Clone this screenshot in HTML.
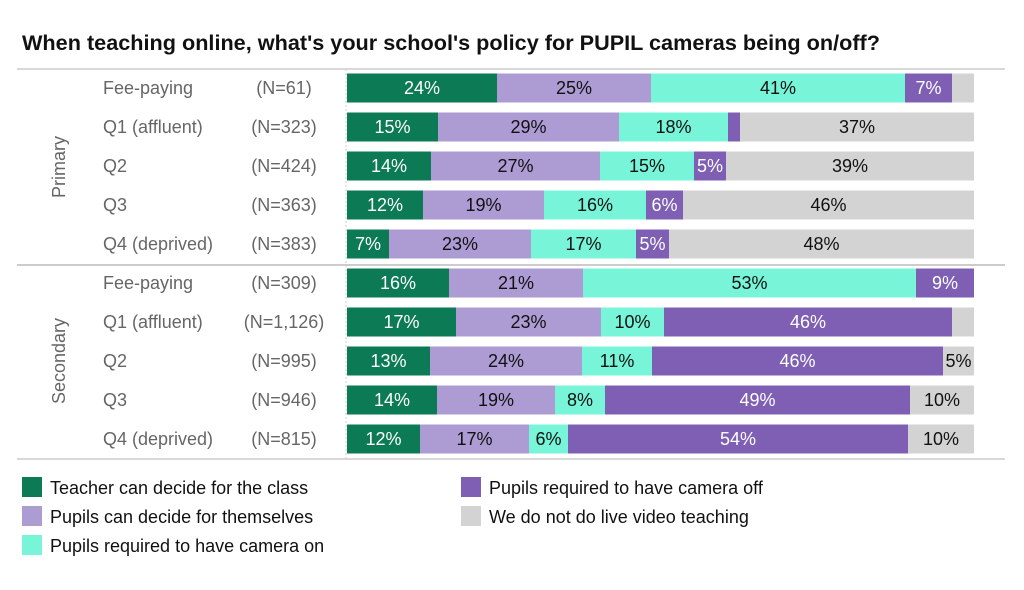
<!DOCTYPE html>
<html><head><meta charset="utf-8"><style>
body{margin:0;background:#fff}
svg text{font-family:"Liberation Sans",sans-serif}
</style></head><body>
<svg width="1024" height="585" xmlns="http://www.w3.org/2000/svg">
<text x="22" y="50" font-size="21.5" font-weight="bold" fill="#111" textLength="858" lengthAdjust="spacingAndGlyphs">When teaching online, what's your school's policy for PUPIL cameras being on/off?</text>
<line x1="17" y1="69" x2="1005" y2="69" stroke="#ccc" stroke-width="1.5"/>
<line x1="17" y1="265" x2="1005" y2="265" stroke="#bbb" stroke-width="1.5"/>
<line x1="17" y1="459" x2="1005" y2="459" stroke="#ccc" stroke-width="1.5"/>
<line x1="346" y1="69" x2="346" y2="459" stroke="#ccc" stroke-width="1" stroke-dasharray="2,2"/>
<text transform="translate(65,167) rotate(-90)" text-anchor="middle" font-size="18" fill="#666">Primary</text>
<text transform="translate(65,361) rotate(-90)" text-anchor="middle" font-size="18" fill="#666">Secondary</text>
<g id="bars"></g>
<g font-size="18" fill="#111">
<rect x="22" y="477" width="20" height="20" fill="#0b7a55"/><text x="50" y="494">Teacher can decide for the class</text>
<rect x="22" y="506" width="20" height="20" fill="#ad9bd3"/><text x="50" y="523">Pupils can decide for themselves</text>
<rect x="22" y="535" width="20" height="20" fill="#78f4d8"/><text x="50" y="552">Pupils required to have camera on</text>
<rect x="461" y="477" width="20" height="20" fill="#7e5fb4"/><text x="489" y="494">Pupils required to have camera off</text>
<rect x="461" y="506" width="20" height="20" fill="#d3d3d3"/><text x="489" y="523">We do not do live video teaching</text>
</g>
</svg>
<script>
var cols=["#0b7a55","#ad9bd3","#78f4d8","#7e5fb4","#d3d3d3"];
var tc=["#fff","#111","#111","#fff","#111"];
var rows=[
["Fee-paying","(N=61)",[347,497,651,905,952,974],["24%","25%","41%","7%",""]],
["Q1 (affluent)","(N=323)",[347,438,619,728,740,974],["15%","29%","18%","","37%"]],
["Q2","(N=424)",[347,431,600,694,726,974],["14%","27%","15%","5%","39%"]],
["Q3","(N=363)",[347,423,544,646,683,974],["12%","19%","16%","6%","46%"]],
["Q4 (deprived)","(N=383)",[347,389,531,636,669,974],["7%","23%","17%","5%","48%"]],
["Fee-paying","(N=309)",[347,449,583,916,916,974],["16%","21%","53%","","9%"]],
["Q1 (affluent)","(N=1,126)",[347,456,601,664,952,974],["17%","23%","10%","46%",""]],
["Q2","(N=995)",[347,430,582,652,943,974],["13%","24%","11%","46%","5%"]],
["Q3","(N=946)",[347,437,555,605,910,974],["14%","19%","8%","49%","10%"]],
["Q4 (deprived)","(N=815)",[347,420,529,568,908,974],["12%","17%","6%","54%","10%"]]
];
var s="";
rows.forEach(function(r,i){
 var cy=88+i*39;
 s+='<text x="103" y="'+(cy+6)+'" font-size="18" fill="#666">'+r[0]+'</text>';
 s+='<text x="284" y="'+(cy+6)+'" font-size="18" fill="#666" text-anchor="middle">'+r[1]+'</text>';
 var b=r[2];
 for(var k=0;k<5;k++){
  var c=k, tcol=tc[k];
  if(i==5&&k==4){c=3;tcol="#fff";}
  var w=b[k+1]-b[k]; if(w<=0)continue;
  s+='<rect x="'+b[k]+'" y="'+(cy-14.5)+'" width="'+w+'" height="29" fill="'+cols[c]+'"/>';
  if(r[3][k]) s+='<text x="'+(b[k]+w/2)+'" y="'+(cy+6)+'" font-size="18" text-anchor="middle" fill="'+tcol+'">'+r[3][k]+'</text>';
 }
});
document.getElementById("bars").innerHTML=s;
</script>
</body></html>
